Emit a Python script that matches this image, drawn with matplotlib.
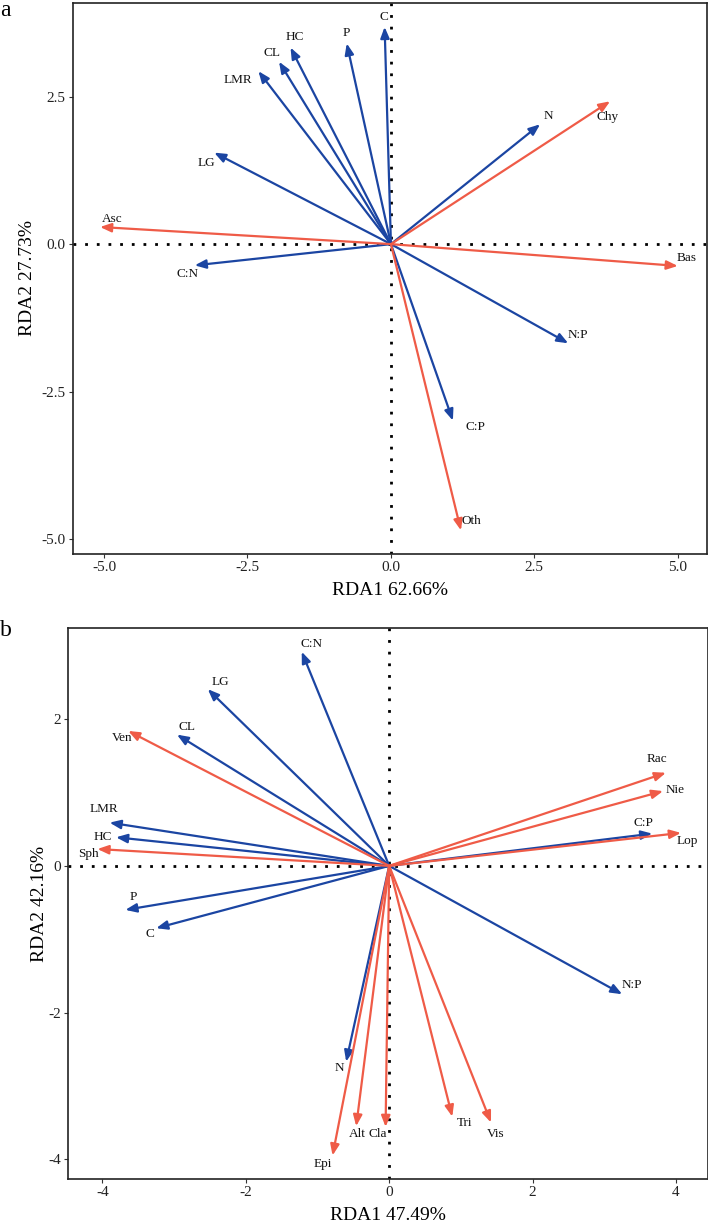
import matplotlib
matplotlib.use("Agg")
import matplotlib.pyplot as plt

plt.rcParams['font.family'] = ['Liberation Serif', 'DejaVu Serif']

BLUE = "#1B45A2"
RED = "#EF5B47"

# Panel a - environmental (blue) arrows
a_env_names = ["C", "P", "HC", "CL", "LMR", "LG", "N", "C:N", "N:P", "C:P"]
a_env_x = [-0.11, -0.77, -1.75, -1.95, -2.31, -3.08, 2.60, -3.42, 3.09, 1.08]
a_env_y = [3.68, 3.40, 3.33, 3.09, 2.93, 1.55, 2.03, -0.36, -1.68, -2.99]
a_env_lx = [-0.12, -0.77, -1.67, -2.07, -2.67, -3.22, 2.74, -3.55, 3.25, 1.48]
a_env_ly = [3.84, 3.57, 3.51, 3.23, 2.78, 1.37, 2.17, -0.50, -1.54, -3.10]

# Panel a - taxa (red) arrows
a_sp_names = ["Chy", "Asc", "Bas", "Oth"]
a_sp_x = [3.82, -5.07, 5.00, 1.22]
a_sp_y = [2.42, 0.29, -0.37, -4.85]
a_sp_lx = [3.78, -4.85, 5.16, 1.41]
a_sp_ly = [2.16, 0.43, -0.23, -4.69]

# Panel b - environmental (blue) arrows
b_env_names = ["C:N", "LG", "CL", "LMR", "HC", "C:P", "P", "C", "N:P", "N"]
b_env_x = [-1.22, -2.53, -2.96, -3.90, -3.81, 3.67, -3.68, -3.25, 3.25, -0.60]
b_env_y = [2.92, 2.41, 1.79, 0.59, 0.39, 0.44, -0.60, -0.85, -1.75, -2.67]
b_env_lx = [-1.08, -2.35, -2.82, -3.98, -4.00, 3.55, -3.57, -3.34, 3.38, -0.70]
b_env_ly = [3.03, 2.51, 1.90, 0.78, 0.40, 0.58, -0.42, -0.93, -1.63, -2.76]

# Panel b - taxa (red) arrows
b_sp_names = ["Ven", "Sph", "Rac", "Nie", "Lop", "Epi", "Alt", "Cla", "Tri", "Vis"]
b_sp_x = [-3.64, -4.07, 3.86, 3.82, 4.07, -0.79, -0.46, -0.05, 0.88, 1.42]
b_sp_y = [1.84, 0.23, 1.27, 1.02, 0.45, -3.95, -3.55, -3.56, -3.42, -3.50]
b_sp_lx = [-3.73, -4.19, 3.74, 3.99, 4.16, -0.92, -0.45, -0.16, 1.05, 1.49]
b_sp_ly = [1.74, 0.16, 1.46, 1.04, 0.34, -4.06, -3.66, -3.66, -3.50, -3.65]

a_xticks = [-5.0, -2.5, 0.0, 2.5, 5.0]
a_yticks = [-5.0, -2.5, 0.0, 2.5]
b_xticks = [-4, -2, 0, 2, 4]
b_yticks = [-4, -2, 0, 2]

W, H = 708, 1223
fig = plt.figure(figsize=(W / 100, H / 100), dpi=100)

def frac(l, t, r, b):
    return [l / W, 1 - b / H, (r - l) / W, (b - t) / H]

axa = fig.add_axes(frac(72.5, 2.7, 706.5, 554))
axb = fig.add_axes(frac(68, 628.3, 707.5, 1179))


def draw(ax, names, xs, ys, lxs, lys, color):
    for n, x, y, lx, ly in zip(names, xs, ys, lxs, lys):
        ax.annotate("", xy=(x, y), xytext=(0, 0),
                    arrowprops=dict(arrowstyle="-|>,head_length=0.55,head_width=0.22",
                                    color=color, lw=1.6, shrinkA=0, shrinkB=0,
                                    mutation_scale=12), zorder=3)
        ax.text(lx, ly, n, ha="center", va="center", fontsize=9.5, color="#111111", zorder=4)


def style(ax, xlim, ylim, xticks, yticks, xlabel, ylabel, fmt, ylx):
    ax.set_xlim(*xlim)
    ax.set_ylim(*ylim)
    ax.axhline(0, color="black", ls=(0, (1, 3.2)), lw=2.0, zorder=2)
    ax.axvline(0, color="black", ls=(0, (1, 3.2)), lw=2.0, zorder=2)
    ax.set_xticks(xticks)
    ax.set_yticks(yticks)
    ax.set_xticklabels([fmt(v) for v in xticks])
    ax.set_yticklabels([fmt(v) for v in yticks])
    ax.tick_params(direction="out", length=3, width=0.8, labelsize=11, colors="#333333",
                   labelcolor="#222222", pad=2)
    for s in ax.spines.values():
        s.set_linewidth(1.2)
        s.set_color("#222222")
    ax.set_xlabel(xlabel, fontsize=14, labelpad=6)
    ax.set_ylabel(ylabel, fontsize=14)
    ax.yaxis.set_label_coords(ylx, 0.5)


draw(axa, a_env_names, a_env_x, a_env_y, a_env_lx, a_env_ly, BLUE)
draw(axa, a_sp_names, a_sp_x, a_sp_y, a_sp_lx, a_sp_ly, RED)
style(axa, (-5.55, 5.50), (-5.25, 4.09), a_xticks, a_yticks,
      "RDA1 62.66%", "RDA2 27.73%", lambda v: f"{v:.1f}", (25 - 72.5) / 634 + 0.018)

draw(axb, b_env_names, b_env_x, b_env_y, b_env_lx, b_env_ly, BLUE)
draw(axb, b_sp_names, b_sp_x, b_sp_y, b_sp_lx, b_sp_ly, RED)
style(axb, (-4.48, 4.44), (-4.27, 3.24), b_xticks, b_yticks,
      "RDA1 47.49%", "RDA2 42.16%", lambda v: f"{v:d}", (36 - 68) / 639.5 + 0.018)

fig.text(0 / W, 1 - 0 / H, "a", fontsize=17, va="top", ha="left")
fig.text(0 / W, 1 - 620 / H, "b", fontsize=17, va="top", ha="left")

fig.savefig("out.png", dpi=100)
